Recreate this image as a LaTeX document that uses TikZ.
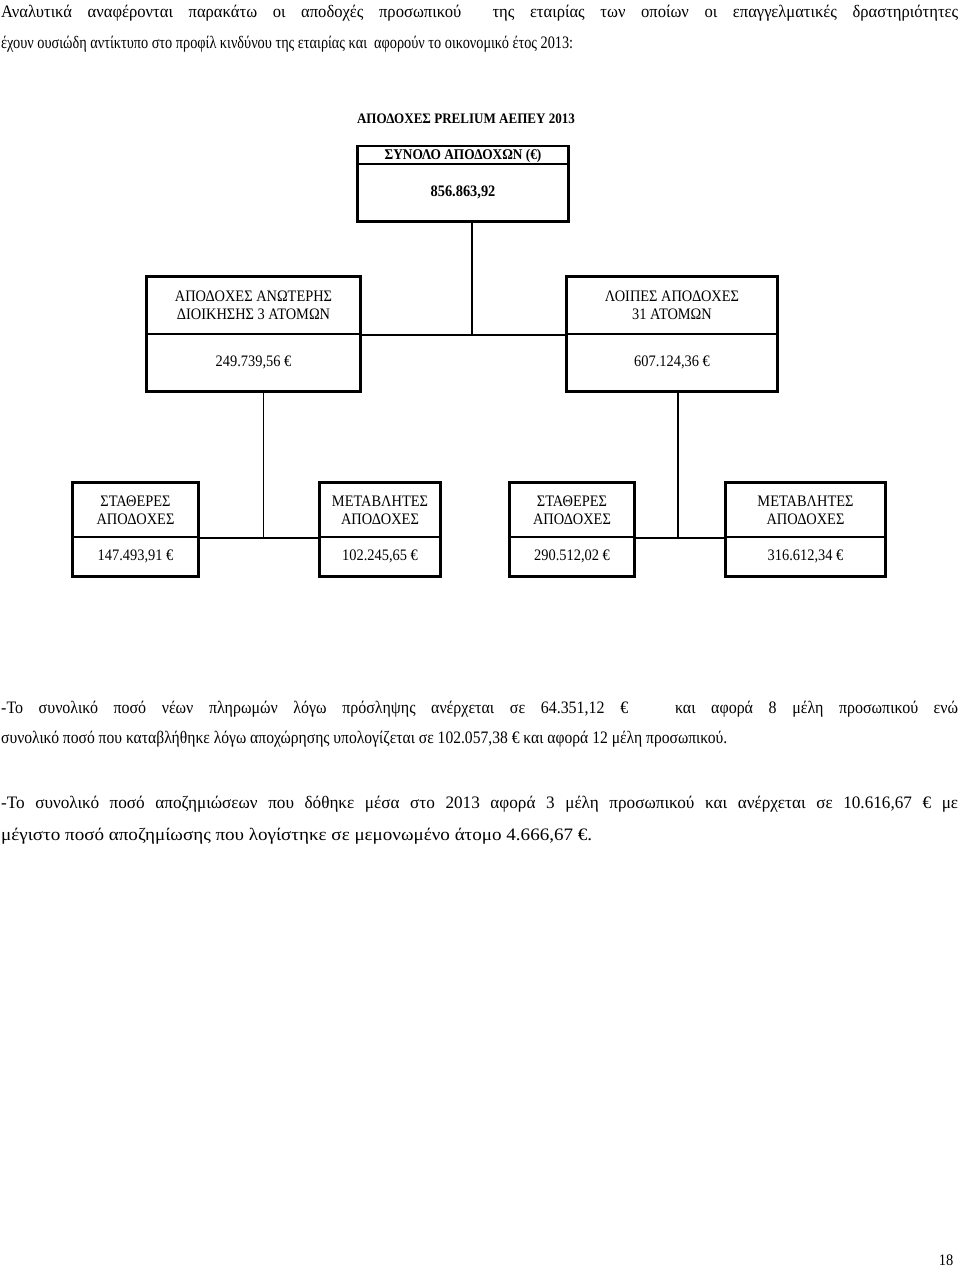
\documentclass[tikz,border=0pt]{standalone}
\usepackage{fontspec}
\usepackage{graphicx}
\setmainfont{Liberation Serif}
\newfontfamily\chartfont{Liberation Serif}[FakeStretch=0.9]
\newfontfamily\bodyfont{Liberation Serif}[FakeStretch=0.82]
\newcommand{\fitline}[3]{\resizebox{#1}{\height}{\makebox[#2][s]{#3}}}
\tikzset{
  part/.style={draw, line width=1.2pt, inner sep=0pt, align=center,
    font=\chartfont\fontsize{16}{18}\selectfont},
  outline/.style={draw, line width=2.4pt},
  link/.style={line width=1.8pt},
  thinlink/.style={line width=1pt},
  body/.style={anchor=base west, inner sep=0pt, font=\bodyfont\fontsize{17.5}{20}\selectfont},
}
\begin{document}
\begin{tikzpicture}[x=1pt,y=-1pt]
\useasboundingbox[fill=white] (0,0) rectangle (960,1274);

% body text
\node[body] (p1a) at (1,17) {\fitline{957pt}{828pt}{Αναλυτικά αναφέρονται παρακάτω οι αποδοχές προσωπικού\ \ της εταιρίας των οποίων οι επαγγελματικές δραστηριότητες}};
\node[body] (p1b) at (1,48) {\resizebox{572pt}{\height}{έχουν ουσιώδη αντίκτυπο στο προφίλ κινδύνου της εταιρίας και\ \ αφορούν το οικονομικό έτος 2013:}};

% title
\node[anchor=base, inner sep=0pt, font=\chartfont\bfseries\fontsize{14.5}{17}\selectfont] (title) at (466,123) {ΑΠΟΔΟΧΕΣ PRELIUM ΑΕΠΕΥ 2013};

% top box
\node[part, minimum width=210pt, minimum height=18pt, font=\chartfont\bfseries\fontsize{14.8}{17}\selectfont] (topH) at (463,155.5) {ΣΥΝΟΛΟ ΑΠΟΔΟΧΩΝ (€)};
\node[part, minimum width=210pt, minimum height=57pt, font=\chartfont\bfseries\fontsize{16}{18}\selectfont] (topV) at (463,192.5) {856.863,92};
\draw[outline] (topH.north west) rectangle (topV.south east);

% level 2
\node[part, minimum width=213pt, minimum height=57pt] (L2aH) at (253.5,305.5) {ΑΠΟΔΟΧΕΣ ΑΝΩΤΕΡΗΣ\\ΔΙΟΙΚΗΣΗΣ 3 ΑΤΟΜΩΝ};
\node[part, minimum width=213pt, minimum height=57pt] (L2aV) at (253.5,362.5) {249.739,56 €};
\draw[outline] (L2aH.north west) rectangle (L2aV.south east);

\node[part, minimum width=210pt, minimum height=57pt] (L2bH) at (672,305.5) {ΛΟΙΠΕΣ ΑΠΟΔΟΧΕΣ\\31 ΑΤΟΜΩΝ};
\node[part, minimum width=210pt, minimum height=57pt] (L2bV) at (672,362.5) {607.124,36 €};
\draw[outline] (L2bH.north west) rectangle (L2bV.south east);

% level 3
\node[part, minimum width=125pt, minimum height=54pt] (L3aH) at (135.5,510) {ΣΤΑΘΕΡΕΣ\\ΑΠΟΔΟΧΕΣ};
\node[part, minimum width=125pt, minimum height=39pt] (L3aV) at (135.5,556.5) {147.493,91 €};
\draw[outline] (L3aH.north west) rectangle (L3aV.south east);

\node[part, minimum width=120pt, minimum height=54pt] (L3bH) at (380,510) {ΜΕΤΑΒΛΗΤΕΣ\\ΑΠΟΔΟΧΕΣ};
\node[part, minimum width=120pt, minimum height=39pt] (L3bV) at (380,556.5) {102.245,65 €};
\draw[outline] (L3bH.north west) rectangle (L3bV.south east);

\node[part, minimum width=124pt, minimum height=54pt] (L3cH) at (572,510) {ΣΤΑΘΕΡΕΣ\\ΑΠΟΔΟΧΕΣ};
\node[part, minimum width=124pt, minimum height=39pt] (L3cV) at (572,556.5) {290.512,02 €};
\draw[outline] (L3cH.north west) rectangle (L3cV.south east);

\node[part, minimum width=159pt, minimum height=54pt] (L3dH) at (805.5,510) {ΜΕΤΑΒΛΗΤΕΣ\\ΑΠΟΔΟΧΕΣ};
\node[part, minimum width=159pt, minimum height=39pt] (L3dV) at (805.5,556.5) {316.612,34 €};
\draw[outline] (L3dH.north west) rectangle (L3dV.south east);

% connectors
\coordinate (j0) at (472,334);
\draw[link] (topV.south -| j0) -- (j0);
\draw[link] (L2aH.south east) -- (L2bH.south west);
\coordinate (j1) at (263,537);
\draw[thinlink] (L2aV.south -| j1) -- (j1);
\draw[link] (L3aH.south east) -- (L3bH.south west);
\coordinate (j2) at (678,537);
\draw[link] (L2bV.south -| j2) -- (j2);
\draw[link] (L3cH.south east) -- (L3dH.south west);

% paragraphs
\node[body] (p2a) at (1,713) {\fitline{957pt}{860pt}{-Το συνολικό ποσό νέων πληρωμών λόγω πρόσληψης ανέρχεται σε 64.351,12 €\ \ \ και αφορά 8 μέλη προσωπικού ενώ}};
\node[body] (p2b) at (1,743) {\resizebox{726pt}{\height}{συνολικό ποσό που καταβλήθηκε λόγω αποχώρησης υπολογίζεται σε 102.057,38 € και αφορά 12 μέλη προσωπικού.}};
\node[body] (p3a) at (1,808) {\fitline{957pt}{800pt}{-Το συνολικό ποσό αποζημιώσεων που δόθηκε μέσα στο 2013 αφορά 3 μέλη προσωπικού και ανέρχεται σε 10.616,67 € με}};
\node[body] (p3b) at (1,840) {\resizebox{591pt}{\height}{μέγιστο ποσό αποζημίωσης που λογίστηκε σε μεμονωμένο άτομο 4.666,67 €.}};

% page number
\node[anchor=base, inner sep=0pt, font=\chartfont\fontsize{16}{18}\selectfont] (pg) at (946,1265) {18};
\end{tikzpicture}
\end{document}
